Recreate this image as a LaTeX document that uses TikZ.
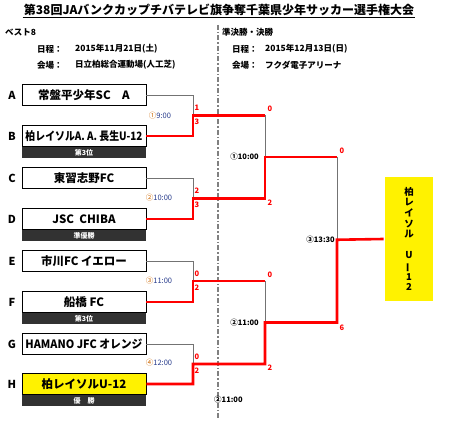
\documentclass[tikz,border=0pt]{standalone}
\usepackage{fontspec}
\usepackage{graphicx}
\setmainfont{Noto Sans CJK JP}
\newsavebox\nmbox
\newcommand\fitname[1]{\sbox\nmbox{#1}\ifdim\wd\nmbox>117pt\resizebox{117pt}{\height}{\usebox\nmbox}\else\usebox\nmbox\fi}
\definecolor{navy}{RGB}{40,60,140}
\definecolor{band}{RGB}{50,50,50}
\tikzset{
  team/.style={draw=black, line width=0.8pt, minimum width=124pt, minimum height=21pt, inner sep=0pt, fill=white, font=\fontsize{11.5}{11.5}\selectfont\bfseries},
  bandbox/.style={fill=band, text=white, minimum width=124.8pt, minimum height=11pt, inner sep=0pt, anchor=north, font=\fontsize{7}{7}\selectfont\bfseries},
  letter/.style={font=\fontsize{11}{11}\selectfont\bfseries},
  lose/.style={draw=black!55, line width=0.8pt},
  win/.style={draw=red, line width=2.6pt},
  score/.style={text=red, inner sep=0.5pt, anchor=west, font=\fontsize{7.5}{7.5}\selectfont\bfseries},
  tone/.style={text=navy, inner sep=0pt, font=\fontsize{7.5}{7.5}\selectfont},
  ttwo/.style={inner sep=0pt, font=\fontsize{7.5}{7.5}\selectfont\bfseries},
  head/.style={anchor=west, inner sep=0pt, font=\fontsize{8.5}{8.5}\selectfont\bfseries},
}
\begin{document}
\begin{tikzpicture}[x=1pt,y=-1pt]
\useasboundingbox (0,0) rectangle (450,427);
% header
\node[inner sep=1pt, font=\fontsize{12}{12}\selectfont\bfseries] (title) at (219,10) {第38回JAバンクカップチバテレビ旗争奪千葉県少年サッカー選手権大会};
\draw[line width=0.8pt] (title.south west) -- (title.south east);
\node[head] (h1) at (5,32) {ベスト8};
\node[head] (h2) at (37,49) {日程：};
\node[head] (h3) at (75,49) {2015年11月21日(土)};
\node[head] (h4) at (37,65) {会場：};
\node[head] (h5) at (75,65) {日立柏総合運動場(人工芝)};
\node[head] (h6) at (222,32) {準決勝・決勝};
\node[head] (h7) at (232,49) {日程：};
\node[head] (h8) at (265,49) {2015年12月13日(日)};
\node[head] (h9) at (232,65) {会場：};
\node[head] (h10) at (265,65) {フクダ電子アリーナ};
% separator
\coordinate (sepT) at (218,25);
\coordinate (sepB) at (218,420);
\draw[black!50, line width=1.2pt, dash pattern=on 5pt off 2pt on 1.5pt off 2pt] (sepT) -- (sepB);
% teams
\node[team] (A) at (84,95) {\fitname{常盤平少年SC　A}};
\node[team] (B) at (84,136) {\fitname{柏レイソルA. A. 長生U-12}};
\node[team] (C) at (84,178) {\fitname{東習志野FC}};
\node[team] (D) at (84,219) {\fitname{JSC\ \ CHIBA}};
\node[team] (E) at (84,261) {\fitname{市川FC イエロー}};
\node[team] (F) at (84,302) {\fitname{船橋 FC}};
\node[team] (G) at (84,344) {\fitname{HAMANO JFC オレンジ}};
\node[team, fill=yellow] (H) at (84,384) {\fitname{柏レイソルU-12}};
\node[bandbox] (bB) at (B.south) {第3位};
\node[bandbox] (bD) at (D.south) {準優勝};
\node[bandbox] (bF) at (F.south) {第3位};
\node[bandbox] (bH) at (H.south) {優　勝};
\foreach \t in {A,B,C,D,E,F,G,H}{\node[letter] (L\t) at (12,0 |- \t) {\t};}
% junctions
\coordinate (m1) at (193,115.5);
\coordinate (m2) at (193,198.5);
\coordinate (m3) at (193,281);
\coordinate (m4) at (193,364);
\coordinate (s1) at (265,157);
\coordinate (s2) at (265,322.5);
\coordinate (f) at (337,239.75);
% winner box
\node[draw=black, line width=0.6pt, double=white, double distance=1.2pt, fill=yellow, minimum width=50pt, minimum height=126pt, inner sep=0pt, align=center, font=\fontsize{9.5}{10.6}\selectfont\bfseries] (W) at (409,239) {柏\\レ\\イ\\ソ\\ル\\[10.6pt]U\\\rotatebox[origin=c]{90}{ー}\\1\\2};
% losers
\draw[lose] (A.east) -| (m1);
\draw[lose] (C.east) -| (m2);
\draw[lose] (E.east) -| (m3);
\draw[lose] (G.east) -| (m4);
\draw[lose] (m1 -| s1) -- (s1);
\draw[lose] (m3 -| s1) -- (s2);
\draw[lose] (s1 -| f) -- (f);
% winners
\draw[win] (B.east) -| (m1) -- (m1 -| s1);
\draw[win] (D.east) -| (m2) -- (m2 -| s1) -- (s1) -- (s1 -| f);
\draw[win] (F.east) -| (m3) -- (m3 -| s2);
\draw[win] (H.east) -| (m4) -- (m4 -| s2) -- (s2) -- (s2 -| f) -- (f) -- (W.west);
% scores
\node[score] (sA) at (194,108) {1};
\node[score] (sB) at (194,122) {3};
\node[score] (sC) at (194,191) {2};
\node[score] (sD) at (194,205) {3};
\node[score] (sE) at (194,274) {0};
\node[score] (sF) at (194,288) {2};
\node[score] (sG) at (194,357) {0};
\node[score] (sH) at (194,371) {2};
\node[score] (s1a) at (267,109) {0};
\node[score] (s1b) at (267,203) {2};
\node[score] (s2a) at (267,275) {0};
\node[score] (s2b) at (267,368) {2};
\node[score] (fa) at (339,151) {0};
\node[score] (fb) at (339,328) {6};
% times
\node[tone] (t1) at (160,115.5) {{\color{orange!80!black}①}9:00};
\node[tone] (t2) at (159,198) {{\color{orange!80!black}②}10:00};
\node[tone] (t3) at (159,281) {{\color{orange!80!black}③}11:00};
\node[tone] (t4) at (159,363) {{\color{orange!80!black}④}12:00};
\node[ttwo, anchor=east] (u1) at (259,157) {①10:00};
\node[ttwo, anchor=east] (u2) at (259,322.5) {②11:00};
\node[ttwo, anchor=east] (u3) at (335,239.5) {③13:30};
\node[ttwo, anchor=west] (u4) at (214,400) {②11:00};
\end{tikzpicture}
\end{document}
